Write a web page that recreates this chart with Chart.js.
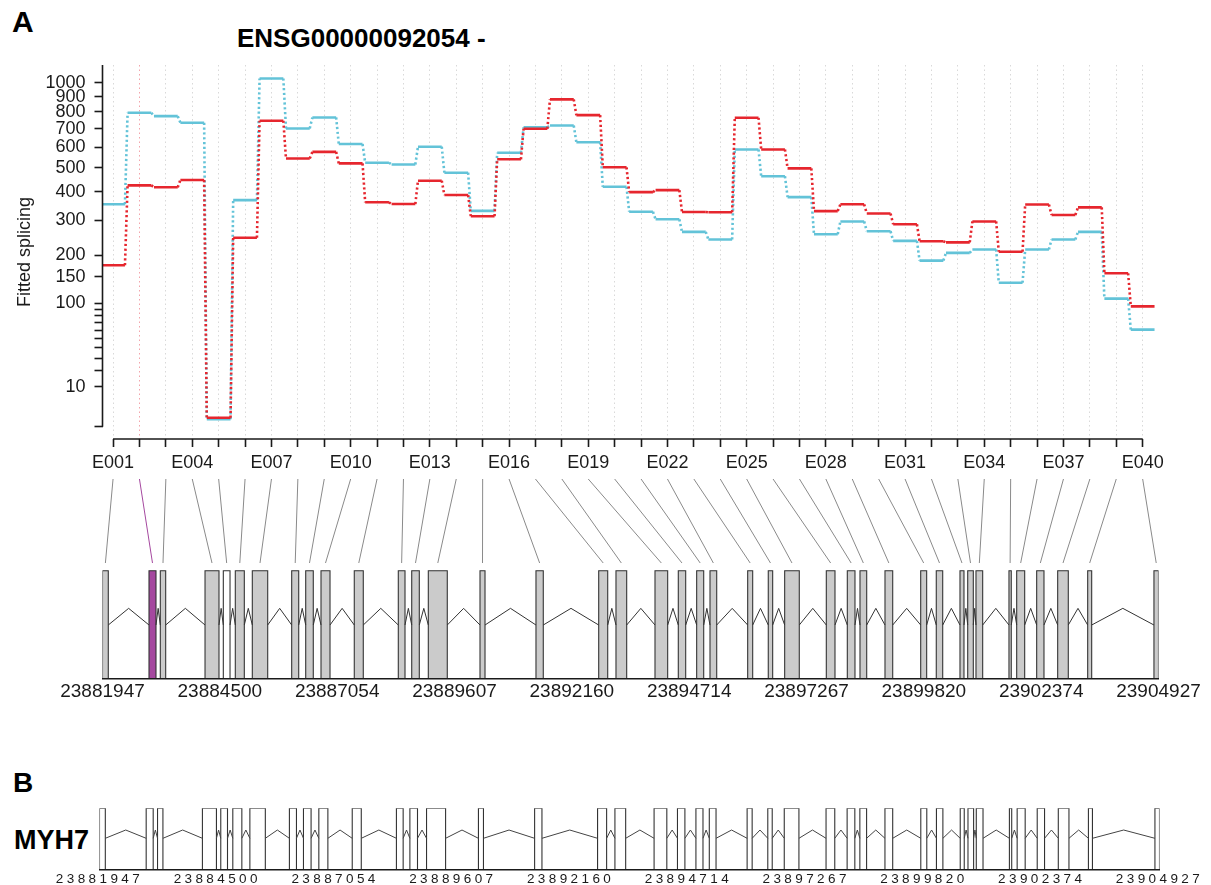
<!DOCTYPE html>
<html><head><meta charset="utf-8">
<script src="https://cdn.jsdelivr.net/npm/chart.js@4.4.1/dist/chart.umd.min.js"></script>
<style>
html,body{margin:0;padding:0;background:#fff;}
#wrap{position:relative;width:1211px;height:885px;overflow:hidden;font-family:'Liberation Sans',Arial,Helvetica,sans-serif;color:#000;}
canvas{position:absolute;left:0;}
.lbl{position:absolute;font-weight:bold;line-height:1;white-space:nowrap;}
</style></head><body>
<div id="wrap">
<div class="lbl" style="left:12px;top:7px;font-size:30px;">A</div>
<div class="lbl" style="left:237px;top:25px;font-size:26px;">ENSG00000092054 -</div>
<canvas id="main" width="1211" height="475" style="top:0"></canvas>
<canvas id="gene" width="1211" height="235" style="top:472px"></canvas>
<div class="lbl" style="left:13px;top:769px;font-size:28px;">B</div>
<div class="lbl" style="left:14px;top:827px;font-size:27px;">MYH7</div>
<canvas id="track" width="1211" height="95" style="top:790px"></canvas>
</div>
<script>
// ---------------- data ----------------
const exonIds = ['E001','E002','E003','E004','E005','E006','E007','E008','E009','E010',
  'E011','E012','E013','E014','E015','E016','E017','E018','E019','E020',
  'E021','E022','E023','E024','E025','E026','E027','E028','E029','E030',
  'E031','E032','E033','E034','E035','E036','E037','E038','E039','E040'];
const fittedCondition1 = [176,426,418,448,0.5,247,746,544,576,521,361,355,445,388,313,540,699,882,780,503,
  399,407,327,326,764,588,498,330,354,322,287,237,234,296,209,353,317,343,158,95];
const fittedCondition2 = [354,795,774,734,0.35,369,1033,701,766,616,524,516,602,479,331,572,707,718,625,420,
  328,303,264,242,588,464,380,257,296,266,238,187,206,215,138,215,242,264,108,61];
const yTickValues = [0,10,20,30,40,50,60,70,80,90,100,150,200,300,400,500,600,700,800,900,1000];
const yTickLabelled = [10,100,150,200,300,400,500,600,700,800,900,1000];
const exonStart = [23881947,23882959,23883205,23884178,23884576,23884837,23885207,23886064,23886369,23886702,
  23887426,23888384,23888676,23889037,23890162,23891380,23892745,23893121,23893970,23894477,
  23894877,23895167,23895987,23896435,23896792,23897698,23898155,23898431,23898975,23899752,
  23900091,23900607,23900775,23900955,23901673,23901841,23902276,23902733,23903386,23904828];
const exonEnd = [23882073,23883111,23883322,23884482,23884722,23885033,23885542,23886217,23886534,23886898,
  23887622,23888530,23888841,23889450,23890271,23891539,23892941,23893354,23894246,23894638,
  23895030,23895313,23896096,23896531,23897110,23897887,23898322,23898577,23899143,23899882,
  23900231,23900694,23900897,23901101,23901723,23902015,23902435,23902964,23903473,23904927];
const genomicTicks = [23881947,23884500,23887054,23889607,23892160,23894714,23897267,23899820,23902374,23904927];
const highlightedExon = 'E002';
const unexpressedExons = ['E005'];

// ---------------- setup ----------------
const FONT = "'Liberation Sans', Arial, Helvetica, sans-serif";
Chart.defaults.font.family = FONT;
Chart.defaults.color = '#1a1a1a';
Chart.defaults.animation = false;

const VST_A = 0.0012;
const vst = q => q >= 0 ? Math.asinh(Math.sqrt(VST_A*q)) : -Math.asinh(Math.sqrt(-VST_A*q));
const ivst = f => { const s = Math.sinh(Math.abs(f)); return Math.sign(f)*s*s/VST_A; };
class VstScale extends Chart.LinearScale {
  configure(){ super.configure(); this._fmin = vst(this.min); this._fmax = vst(this.max); }
  getPixelForValue(v){ return this.getPixelForDecimal((vst(v)-this._fmin)/(this._fmax-this._fmin)); }
  getValueForPixel(p){ return ivst(this._fmin + this.getDecimalForPixel(p)*(this._fmax-this._fmin)); }
}
VstScale.id = 'vst';
VstScale.defaults = {};
Chart.register(VstScale);

const RED = '#e6262e', CYAN = '#63c3d8';
const HALF = 0.45;
function stepPoints(values){
  const pts = [];
  values.forEach((v,i) => { pts.push({x:i-HALF, y:v}, {x:i+HALF, y:v}); });
  return pts;
}
const stepSegment = { borderDash: c => (c.p0DataIndex % 2 === 1) ? [2.2, 2.6] : undefined };

const axisLinesPlugin = {
  id: 'rAxes',
  afterDraw(chart){
    const {ctx, chartArea} = chart; const x = chart.scales.x, y = chart.scales.y;
    ctx.save(); ctx.strokeStyle = '#1a1a1a'; ctx.lineWidth = 1.6; ctx.setLineDash([]);
    ctx.beginPath();
    ctx.moveTo(x.getPixelForValue(0), chartArea.bottom);
    ctx.lineTo(x.getPixelForValue(exonIds.length-1), chartArea.bottom);
    ctx.moveTo(chartArea.left, y.getPixelForValue(0));
    ctx.lineTo(chartArea.left, chartArea.top);
    ctx.stroke(); ctx.restore();
  }
};

new Chart(document.getElementById('main'), {
  type: 'line',
  data: { datasets: [
    { data: stepPoints(fittedCondition1), borderColor: RED, segment: stepSegment },
    { data: stepPoints(fittedCondition2), borderColor: CYAN, segment: stepSegment }
  ]},
  options: {
    responsive: false, animation: false,
    layout: { padding: { top: 65, right: 52.5, left: 0, bottom: 0 } },
    plugins: { legend: { display: false }, tooltip: { enabled: false } },
    elements: { point: { radius: 0 }, line: { borderWidth: 2.6, tension: 0, borderCapStyle: 'butt', fill: false } },
    scales: {
      x: { type: 'linear', min: -0.4, max: exonIds.length - 0.4, bounds: 'data',
        afterBuildTicks: s => { s.ticks = exonIds.map((_, i) => ({ value: i })); },
        afterFit: s => { s.height = 36; },
        ticks: { autoSkip: false, maxRotation: 0, padding: 5, font: { size: 18 }, color: '#1a1a1a',
          callback: v => (v % 3 === 0) ? exonIds[v] : '' },
        grid: { drawOnChartArea: true, color: c => exonIds[c.index] === highlightedExon ? '#f3a3aa' : '#d9d9d9',
          lineWidth: 1, tickLength: 8, tickColor: '#1a1a1a', tickWidth: 1.6, tickBorderDash: [] },
        border: { display: false, dash: [1.5, 3] }
      },
      y: { type: 'vst', min: -0.96, max: 1140, bounds: 'data',
        afterBuildTicks: s => { s.ticks = yTickValues.map(v => ({ value: v })); },
        afterFit: s => { s.width = 102.5; },
        ticks: { autoSkip: false, padding: 9, font: { size: 18 }, color: '#1a1a1a',
          callback: v => yTickLabelled.includes(v) ? String(v) : '' },
        grid: { drawOnChartArea: false, tickLength: 8, tickColor: '#1a1a1a', tickWidth: 1.6 },
        border: { display: false },
        title: { display: true, text: 'Fitted splicing', font: { size: 18 }, color: '#1a1a1a', padding: { top: 14.7, bottom: 0 } }
      }
    }
  },
  plugins: [axisLinesPlugin]
});

// ---------------- gene model (panel A) ----------------
function exonRects(filter, top){
  const pts = [];
  exonIds.forEach((id, i) => {
    if (!filter(id)) return;
    pts.push({x:exonStart[i], y:0}, {x:exonStart[i], y:top}, {x:exonEnd[i], y:top}, {x:exonEnd[i], y:0}, {x:exonEnd[i], y:null});
  });
  return pts;
}
function intronPath(base, peak){
  const pts = [];
  for (let i = 0; i < exonStart.length - 1; i++) {
    const a = exonEnd[i], b = exonStart[i+1];
    pts.push({x:a, y:base}, {x:(a+b)/2, y:peak}, {x:b, y:base}, {x:b, y:null});
  }
  return pts;
}
const GA = { boxTop: 0.54, intronBase: 0.2674, intronPeak: 0.351, connTop: 1, connBottom: 0.5785 };
const PURPLE = '#a5489f';
const connectorPlugin = {
  id: 'connectors',
  afterDatasetsDraw(chart){
    const {ctx} = chart; const e = chart.scales.e, g = chart.scales.x, y = chart.scales.y;
    ctx.save(); ctx.lineWidth = 1;
    exonIds.forEach((id, i) => {
      ctx.strokeStyle = id === highlightedExon ? PURPLE : '#8a8a8a';
      ctx.beginPath();
      ctx.moveTo(e.getPixelForValue(i), y.getPixelForValue(GA.connTop));
      ctx.lineTo(g.getPixelForValue((exonStart[i] + exonEnd[i]) / 2), y.getPixelForValue(GA.connBottom));
      ctx.stroke();
    });
    ctx.restore();
  }
};
function geneScales(h, bottomArea, fontSize, pad){
  return {
    x: { type: 'linear', position: 'bottom', min: genomicTicks[0], max: genomicTicks[genomicTicks.length-1], bounds: 'data',
      afterBuildTicks: s => { s.ticks = genomicTicks.map(v => ({ value: v })); },
      afterFit: s => { s.height = h - bottomArea; },
      ticks: { autoSkip: false, maxRotation: 0, padding: pad, font: { size: fontSize }, color: '#1a1a1a', callback: v => String(v) },
      grid: { display: false, drawTicks: false, drawOnChartArea: false },
      border: { display: true, color: '#1a1a1a', width: 1.5 }
    },
    e: { type: 'linear', axis: 'x', position: 'bottom', display: false, min: -0.4, max: exonIds.length - 0.4 },
    y: { type: 'linear', min: 0, max: 1, display: false }
  };
}
const lineBase = { pointRadius: 0, tension: 0, spanGaps: false, xAxisID: 'x', yAxisID: 'y' };
new Chart(document.getElementById('gene'), {
  type: 'line',
  data: { datasets: [
    Object.assign({ data: intronPath(GA.intronBase, GA.intronPeak), borderColor: '#333', borderWidth: 1, fill: false }, lineBase),
    Object.assign({ data: exonRects(id => id !== highlightedExon && !unexpressedExons.includes(id), GA.boxTop),
      borderColor: '#333', borderWidth: 1.1, backgroundColor: '#cbcbcb', fill: 'origin' }, lineBase),
    Object.assign({ data: exonRects(id => id === highlightedExon, GA.boxTop),
      borderColor: '#333', borderWidth: 1.1, backgroundColor: PURPLE, fill: 'origin' }, lineBase),
    Object.assign({ data: exonRects(id => unexpressedExons.includes(id), GA.boxTop),
      borderColor: '#333', borderWidth: 1.1, backgroundColor: '#ffffff', fill: 'origin' }, lineBase)
  ]},
  options: {
    responsive: false, animation: false,
    layout: { padding: { top: 7, left: 102.5, right: 52.5, bottom: 0 } },
    plugins: { legend: { display: false }, tooltip: { enabled: false } },
    scales: geneScales(235, 206.3, 19, 2)
  },
  plugins: [connectorPlugin]
});

// ---------------- transcript track (panel B) ----------------
const GB = { boxTop: 1, intronBase: 0.508, intronPeak: 0.644 };
new Chart(document.getElementById('track'), {
  type: 'line',
  data: { datasets: [
    Object.assign({ data: intronPath(GB.intronBase, GB.intronPeak), borderColor: '#444', borderWidth: 1, fill: false }, lineBase),
    Object.assign({ data: exonRects(() => true, GB.boxTop), borderColor: '#333', borderWidth: 1.1, backgroundColor: '#ffffff', fill: 'origin' }, lineBase)
  ]},
  options: {
    responsive: false, animation: false,
    layout: { padding: { top: 18.3, left: 99.5, right: 51.5, bottom: 0 } },
    plugins: { legend: { display: false }, tooltip: { enabled: false } },
    scales: geneScales(95, 79.3, 13.5, 1.5)
  },
  plugins: [{ id: 'spacing', beforeDraw(chart){ chart.ctx.letterSpacing = '3.4px'; } }]
});
</script>
</body></html>
